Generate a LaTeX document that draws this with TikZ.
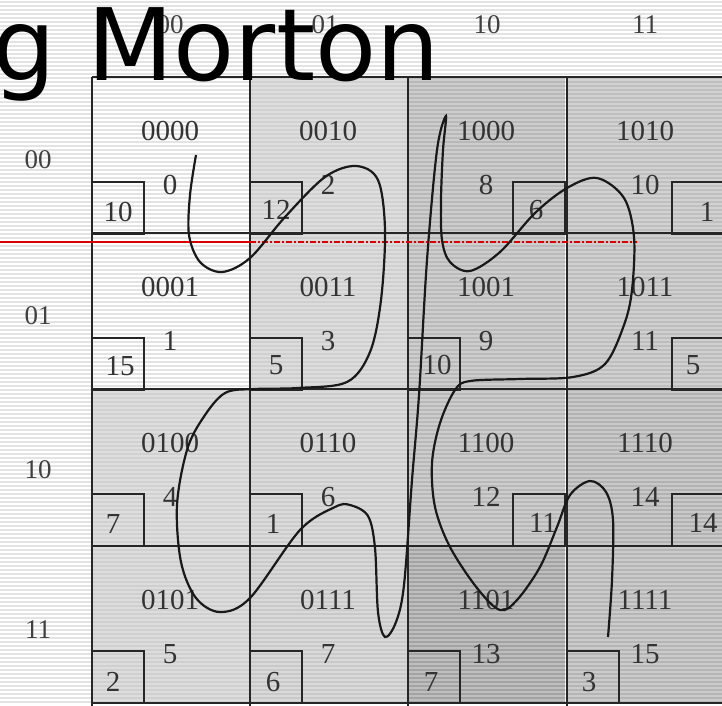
\documentclass[tikz,border=0pt]{standalone}
\usepackage{fontspec}
\setmainfont{Liberation Serif}
\newfontfamily\titlefont{DejaVu Sans}
\begin{document}
\begin{tikzpicture}[x=1pt,y=-1pt,
  gridline/.style={draw=black!85,line width=2.6pt},
  boxline/.style={draw=black!85,line width=2pt},
  celltxt/.style={font=\fontsize{29}{29}\selectfont,text=black!80,inner sep=0pt},
  axtxt/.style={font=\fontsize{27}{27}\selectfont,text=black!75,inner sep=0pt},
  curveline/.style={draw=black!90,line width=2.2pt}]
\useasboundingbox (0,0) rectangle (722,705);
\fill[white] (0,0) rectangle (722,705);
\foreach \y in {2,6,...,702} \draw[black!11,line width=1.4pt] (0,\y) -- (722,\y);
\begin{scope}
\clip (0,0) rectangle (722,705);
% cell fills
\foreach \x/\y/\g in {250/77/18,250/233/19,92/389/18,92/546/19,250/389/20,250/546/21,
  408/77/28,408/233/27,567/77/25,567/233/26,408/389/28,408/546/36,567/389/30,567/546/29}
  \fill[black!\g] (\x,\y) rectangle ++(157,157);
\foreach \y in {4,8,...,704} \draw[white,opacity=0.3,line width=1.2pt] (250,\y) -- (722,\y);
\foreach \y in {392,396,...,704} \draw[white,opacity=0.3,line width=1.2pt] (92,\y) -- (250,\y);
% grid
\foreach \x in {92,250,408,567,724} \draw[gridline] (\x,77) -- (\x,710);
\foreach \y in {77,233,389,546,703} \draw[gridline] (92,\y) -- (730,\y);
% small boxes (L = lower left, R = lower right)
\foreach \x/\y/\s in {92/77/L,92/233/L,92/389/L,92/546/L,250/77/L,250/233/L,250/389/L,250/546/L,
  408/77/R,408/233/L,408/389/R,408/546/L,567/77/R,567/233/R,567/389/R,567/546/L}{
  \if L\s \draw[boxline] (\x,\y) ++(0,105) rectangle ++(52,52);
  \else \draw[boxline] (\x,\y) ++(105,105) rectangle ++(52,52); \fi}
% binary codes and Morton numbers
\foreach \x/\y/\b/\n/\i in {92/77/0000/0/a,92/233/0001/1/b,92/389/0100/4/c,92/546/0101/5/d,
  250/77/0010/2/e,250/233/0011/3/f,250/389/0110/6/g,250/546/0111/7/h,
  408/77/1000/8/i,408/233/1001/9/j,408/389/1100/12/k,408/546/1101/13/l,
  567/77/1010/10/m,567/233/1011/11/n,567/389/1110/14/o,567/546/1111/15/p}{
  \node[celltxt] (code\i) at (\x+78,\y+54) {\b};
  \node[celltxt] (num\i) at (\x+78,\y+108) {\n};}
% box numbers
\foreach \x/\y/\v/\i in {118/212/10/a,120/366/15/b,113/524/7/c,113/682/2/d,
  276/210/12/e,276/365/5/f,273/524/1/g,273/682/6/h,
  536/210/6/i,437/365/10/j,543/523/11/k,431/682/7/l,
  707/212/1/m,693/365/5/n,703/523/14/o,589/682/3/p}
  \node[celltxt] (box\i) at (\x,\y) {\v};
\end{scope}
% axis labels
\foreach \x/\t/\i in {170/00/1,325/01/2,487/10/3,645/11/4}
  \node[axtxt] (col\i) at (\x,25) {\t};
\foreach \y/\t/\i in {160/00/1,316/01/2,470/10/3,630/11/4}
  \node[axtxt] (row\i) at (38,\y) {\t};
% red line
\coordinate (redA) at (0,242);
\coordinate (redB) at (250,242);
\coordinate (redC) at (637,242);
\draw[red!85!black,line width=2pt] (redA) -- (redB);
\draw[red!85!black,line width=1.2pt,dash pattern=on 6pt off 2pt on 2pt off 2pt] (redB) -- (redC);
% Morton curve
\draw[curveline] plot[smooth,tension=0.55] coordinates {
 (196,155) (190,195) (189,235) (200,262) (222,272) (250,258) (285,217) (325,177) (356,166)
 (378,180) (385,230) (381,300) (370,352) (347,382) (298,388) (255,389) (225,393)
 (203,418) (187,450) (177,505) (181,562) (196,598) (220,612) (250,598) (300,530)
 (335,507) (350,505) (368,516) (375,548) (378,612) (385,637) (396,622) (404,585)
 (412,480) (419,395) (427,260) (437,150) (446,116) (443,150) (441,200) (442,240)
 (450,262) (470,271) (500,252) (535,213) (567,188) (597,178) (624,198) (634,237)
 (632,290) (624,325) (605,364) (573,377) (520,379) (470,381) (455,390) (440,423)
 (432,463) (435,507) (450,547) (477,588) (500,610) (517,600) (540,567) (557,527)
 (570,495) (590,481) (606,492) (613,520) (612,580) (608,637)};
% title
\node[font=\titlefont\fontsize{100}{100}\selectfont,anchor=base west,inner sep=0pt] (title) at (-8,80) {g Morton};
\end{tikzpicture}
\end{document}
